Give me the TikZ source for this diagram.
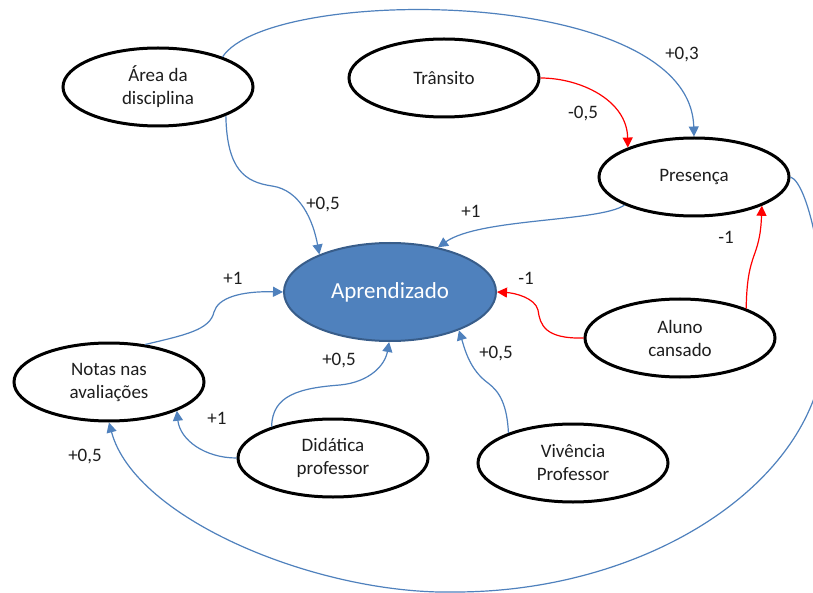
\documentclass[tikz,border=0pt]{standalone}
\usepackage{fontspec}
\setmainfont{Carlito}
\usetikzlibrary{shapes.geometric,arrows.meta}
\definecolor{lineblue}{RGB}{79,129,189}
\definecolor{fillblue}{RGB}{79,129,189}
\definecolor{edgeblue}{RGB}{56,93,138}
\definecolor{txt}{RGB}{30,30,30}
\tikzset{
  ell/.style={ellipse, draw=black, line width=3pt, fill=white, minimum width=190pt, minimum height=78pt,
    inner sep=0pt, align=center, text=txt, font=\fontsize{19}{23}\selectfont},
  mainell/.style={ellipse, draw=edgeblue, line width=2pt, fill=fillblue, minimum width=212pt, minimum height=98pt,
    inner sep=0pt, align=center, text=white, font=\fontsize{23}{27}\selectfont},
  bl/.style={draw=lineblue, line width=1.2pt, -{Triangle[length=10pt,width=10pt]}},
  rd/.style={draw=red, line width=1.2pt, -{Triangle[length=10pt,width=10pt]}},
  lbl/.style={inner sep=0pt, text=txt, font=\fontsize{19}{23}\selectfont}
}
\begin{document}
\begin{tikzpicture}[x=1pt,y=-1pt]
\useasboundingbox (0,0) rectangle (813,593);
\clip (0,0) rectangle (813,593);
\fill[white] (0,0) rectangle (813,593);

\node[ell] (area) at (158,87) {Área da\\disciplina};
\node[ell] (trans) at (444,78) {Trânsito};
\node[ell] (pres) at (694,177) {Presença};
\node[mainell] (apr) at (390,292) {Aprendizado};
\node[ell] (notas) at (109,382) {Notas nas\\avaliações};
\node[ell] (did) at (333,458) {Didática\\professor};
\node[ell] (viv) at (573,463) {Vivência\\Professor};
\node[ell] (aluno) at (680,338) {Aluno\\cansado};

% connectors
\draw[bl] (area.-23) .. controls (227,170) and (245,182) .. (272,186) .. controls (300,190) and (313,220) .. (apr.152);
\draw[bl] (area.25) .. controls (270,-15) and (690,-15) .. (pres.90);
\draw[rd] (trans.0) .. controls (580,78) and (627,100) .. (pres.156);
\draw[bl] (pres.202) .. controls (600,222) and (480,218) .. (apr.43);
\draw[rd] (aluno.24) .. controls (747,250) and (760,260) .. (pres.-23);
\draw[rd] (aluno.180) .. controls (545,339) and (540,325) .. (538,310) .. controls (535,298) and (515,293) .. (apr.0);
\draw[bl] (viv.155) .. controls (507,405) and (500,392) .. (488,383) .. controls (470,370) and (465,350) .. (apr.-29);
\draw[bl] (did.153) .. controls (272,395) and (300,388) .. (340,385) .. controls (370,382) and (385,365) .. (apr.-91);
\draw[bl] (did.180) .. controls (205,458) and (180,440) .. (notas.-23);
\draw[bl] (notas.46) .. controls (185,335) and (210,330) .. (214,312) .. controls (218,298) and (240,291) .. (apr.180);
\draw[bl] (pres.0) .. controls (808,183) and (826,270) .. (825,340) .. controls (823,480) and (650,592) .. (455,592) .. controls (320,595) and (135,520) .. (notas.-90);

% labels
\node[lbl] (l1) at (323,205) {+0,5};
\node[lbl] (l2) at (682,55) {+0,3};
\node[lbl] (l3) at (583,114) {-0,5};
\node[lbl] (l4) at (471,211) {+1};
\node[lbl] (l5) at (726,237) {-1};
\node[lbl] (l6) at (526,278) {-1};
\node[lbl] (l7) at (233,278) {+1};
\node[lbl] (l8) at (339,361) {+0,5};
\node[lbl] (l9) at (217,418) {+1};
\node[lbl] (l10) at (85,457) {+0,5};
\node[lbl] (l11) at (496,354) {+0,5};
\end{tikzpicture}
\end{document}
